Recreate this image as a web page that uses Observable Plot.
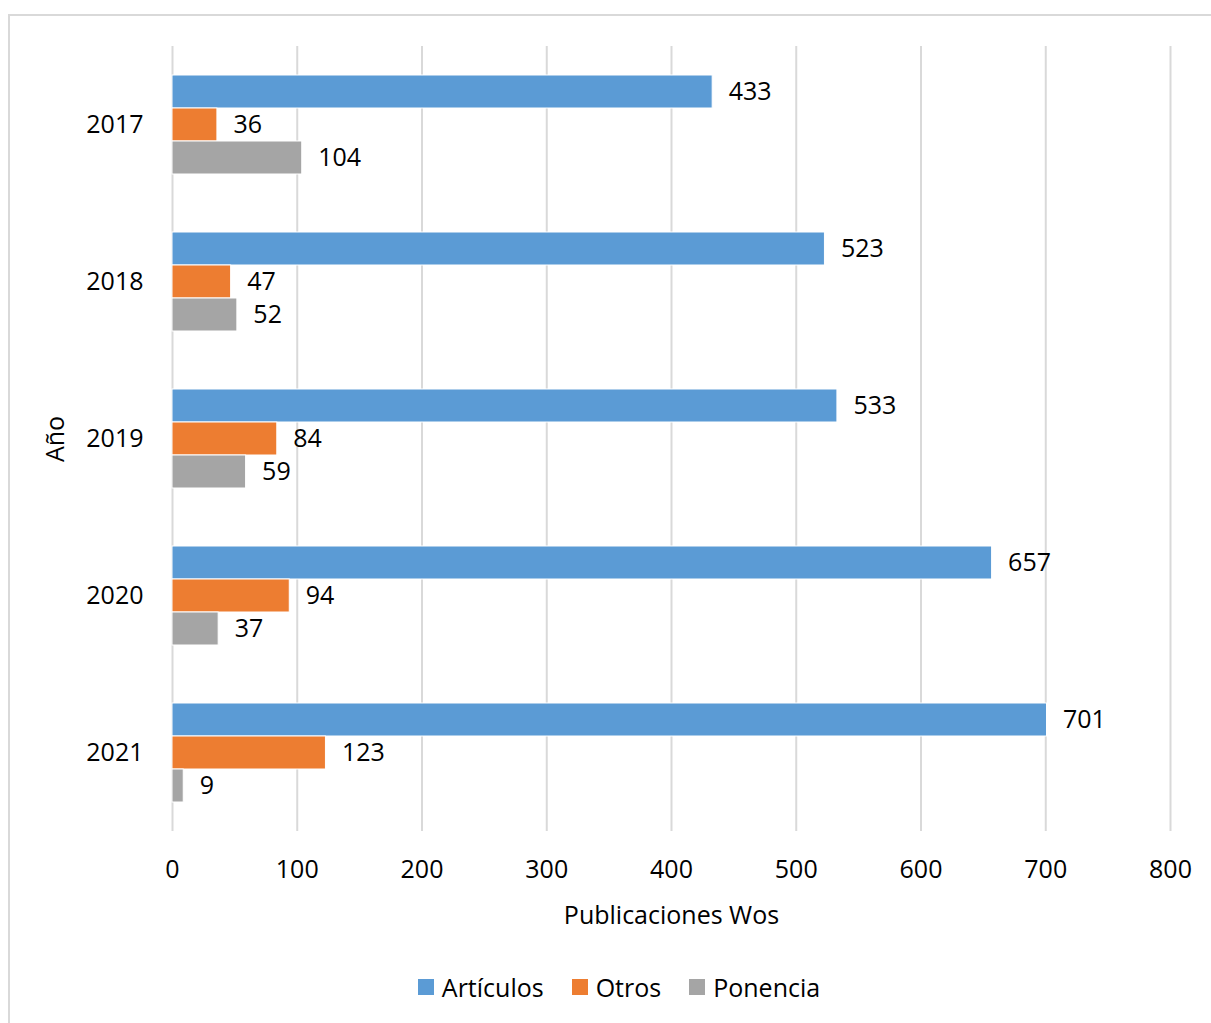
<!DOCTYPE html>
<html><head><meta charset="utf-8">
<script src="https://cdn.jsdelivr.net/npm/d3@7"></script>
<script src="https://cdn.jsdelivr.net/npm/@observablehq/plot@0.6"></script>
<style>
body{margin:0;background:#fff;font-family:"Open Sans",sans-serif;}
#frame{position:absolute;left:8px;top:14px;width:1300px;height:1100px;border:2px solid #d9d9d9;}
#chart{position:absolute;left:0;top:0;}
#legend{position:absolute;top:970px;left:0;width:1238px;display:flex;justify-content:center;gap:28px;font-size:25px;color:#000;}
#legend .it{display:flex;align-items:center;gap:8px;}
#legend .sw{width:16px;height:16px;display:inline-block;}
</style></head>
<body>
<div id="frame"></div>
<div id="chart"></div>
<div id="legend"></div>
<script>
const years = ["2017","2018","2019","2020","2021"];
const series = ["Artículos","Otros","Ponencia"];
const articulos = [433,523,533,657,701];
const otros = [36,47,84,94,123];
const ponencia = [104,52,59,37,9];
const colors = ["#5B9BD5","#ED7D31","#A5A5A5"];
const xTicks = [0,100,200,300,400,500,600,700,800];

const valuesBySeries = [articulos, otros, ponencia];
const data = [];
years.forEach((y,i)=>series.forEach((s,j)=>data.push({year:y, series:s, value:valuesBySeries[j][i]})));

const chart = Plot.plot({
  width:1211, height:940,
  marginLeft:172, marginRight:41, marginTop:44, marginBottom:108,
  style:{fontFamily:"Open Sans", fontSize:"25px", color:"#000", background:"transparent"},
  x:{domain:[0,800]},
  fy:{domain:years, padding:0},
  y:{domain:series, paddingInner:0, paddingOuter:0.87, axis:null},
  color:{domain:series, range:colors},
  marks:[
    Plot.gridX(xTicks,{stroke:"#d9d9d9", strokeOpacity:1, strokeWidth:2}),
    Plot.barX(data,{x:"value", y:"series", fy:"year", fill:"series", stroke:"white", strokeWidth:1}),
    Plot.text(data,{x:"value", y:"series", fy:"year", text:d=>String(d.value), textAnchor:"start", dx:16, fontSize:25, fill:"#000"}),
    Plot.axisX(xTicks,{tickSize:0, tickPadding:29, fontSize:25, label:"Publicaciones Wos", labelAnchor:"center", labelOffset:92, labelArrow:"none"}),
    Plot.axisFy({anchor:"left", tickSize:0, tickPadding:29, fontSize:25, label:"Año", labelAnchor:"center", labelOffset:126, labelArrow:"none"})
  ]
});
document.getElementById("chart").appendChild(chart);

const lg = document.getElementById("legend");
series.forEach((s,j)=>{
  const it = document.createElement("span"); it.className="it";
  const sw = document.createElement("span"); sw.className="sw"; sw.style.background=colors[j];
  const t = document.createElement("span"); t.textContent=s;
  it.appendChild(sw); it.appendChild(t); lg.appendChild(it);
});
</script>
</body></html>
